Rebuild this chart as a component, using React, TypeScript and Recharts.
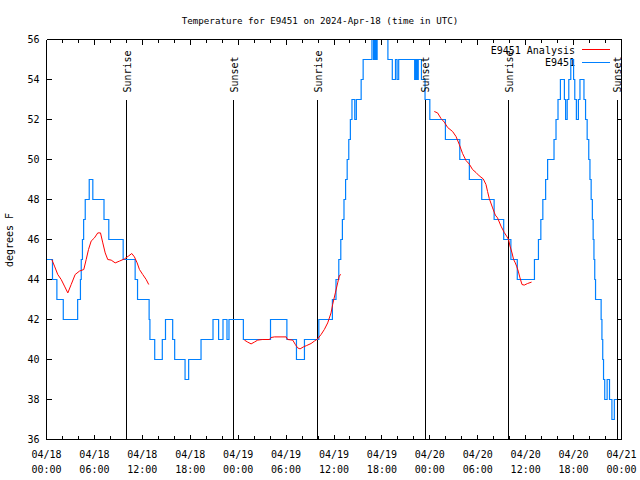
import { Line, LineChart, ReferenceDot, ReferenceLine, XAxis, YAxis } from 'recharts';

const FONT = '"DejaVu Sans Mono", "Liberation Mono", monospace';
const BLUE = '#0080ff';
const RED = '#ff0000';

// hours since 04/18 00:00 UTC
const HOUR_TICKS = [0, 2, 4, 6, 8, 10, 12, 14, 16, 18, 20, 22, 24, 26, 28, 30, 32, 34, 36, 38, 40, 42, 44, 46, 48, 50, 52, 54, 56, 58, 60, 62, 64, 66, 68, 70, 72];
const DATE_LABELS = ['04/18', '04/18', '04/18', '04/18', '04/19', '04/19', '04/19', '04/19', '04/20', '04/20', '04/20', '04/20', '04/21'];
const TIME_LABELS = ['00:00', '06:00', '12:00', '18:00', '00:00', '06:00', '12:00', '18:00', '00:00', '06:00', '12:00', '18:00', '00:00'];
const TEMP_TICKS = [36, 38, 40, 42, 44, 46, 48, 50, 52, 54, 56];

const SUN_EVENTS = [
  { t: 10.05, label: 'Sunrise' },
  { t: 23.45, label: 'Sunset' },
  { t: 33.96, label: 'Sunrise' },
  { t: 47.45, label: 'Sunset' },
  { t: 57.9, label: 'Sunrise' },
  { t: 71.45, label: 'Sunset' },
];

// E9451 observations: [hour, degF], each value held until the next change
const OBS: [number, number][] = [
  [0.05, 45], [0.75, 44], [1.3, 43], [2.1, 42], [3.9, 43], [4.25, 44], [4.35, 45], [4.5, 46],
  [4.65, 47], [4.85, 48], [5.35, 49], [5.8, 48], [7.2, 47], [7.8, 46], [9.6, 45], [11.1, 44],
  [11.4, 43], [12.85, 42], [12.95, 41], [13.55, 40], [14.5, 41], [14.9, 42], [15.8, 41], [16.05, 40],
  [17.35, 39], [17.8, 40], [19.35, 41], [20.85, 42], [21.55, 41], [22.1, 42], [22.6, 41], [22.85, 42],
  [24.65, 41], [28.05, 42], [30.1, 41], [31.3, 40], [32.3, 41], [34.1, 42], [35.8, 43], [36.25, 44],
  [36.6, 45], [36.85, 46], [37.05, 47], [37.25, 48], [37.45, 49], [37.65, 50], [37.85, 51], [38.05, 52],
  [38.25, 53], [38.6, 52], [38.8, 53], [39.4, 54], [39.65, 55], [40.75, 56], [40.95, 55], [41.1, 56],
  [41.25, 55], [41.4, 56], [42.75, 55], [43.3, 54], [43.7, 55], [43.9, 54], [44.1, 55], [46.1, 54],
  [46.25, 55], [46.4, 54], [46.55, 55], [46.95, 54], [47.4, 53], [48.0, 52], [49.95, 51], [51.75, 50],
  [52.95, 49], [54.5, 48], [56.05, 47], [57.25, 46], [58.15, 45], [58.95, 44], [61.1, 45], [61.6, 46],
  [61.9, 47], [62.15, 48], [62.5, 49], [62.75, 50], [63.55, 51], [63.8, 52], [64.05, 53], [64.35, 54],
  [64.85, 53], [65.0, 52], [65.2, 53], [65.4, 54], [65.65, 55], [66.0, 54], [66.15, 53], [66.35, 52],
  [66.6, 53], [66.8, 54], [67.3, 53], [67.5, 52], [67.7, 51], [67.9, 50], [68.05, 49], [68.2, 48],
  [68.35, 47], [68.45, 46], [68.55, 45], [68.65, 44], [68.75, 43], [69.45, 42], [69.55, 41], [69.65, 40],
  [69.75, 39], [69.9, 38], [70.2, 39], [70.5, 38], [70.8, 37], [71.1, 38], [71.5, 38],
];

// E9451 Analysis, three separate runs
const ANALYSIS_1: [number, number][] = [
  [0.66, 45.0], [1.0, 44.67], [1.41, 44.25], [1.84, 44.0], [2.25, 43.67], [2.67, 43.33], [3.09, 43.75],
  [3.59, 44.25], [4.13, 44.42], [4.67, 44.5], [4.97, 45.0], [5.26, 45.5], [5.59, 45.92], [6.0, 46.08],
  [6.42, 46.33], [6.76, 46.33], [7.05, 45.83], [7.35, 45.33], [7.67, 45.0], [8.1, 44.97], [8.6, 44.83],
  [9.14, 44.92], [9.76, 45.03], [10.26, 45.17], [10.68, 45.3], [11.01, 45.13], [11.35, 44.83],
  [11.64, 44.5], [12.05, 44.25], [12.48, 44.0], [12.8, 43.75],
];
const ANALYSIS_2: [number, number][] = [
  [24.78, 40.97], [25.19, 40.87], [25.62, 40.78], [26.03, 40.87], [26.45, 40.97], [27.03, 41.0],
  [27.91, 41.0], [28.12, 41.1], [28.54, 41.13], [30.0, 41.13], [30.2, 41.0], [30.83, 40.97],
  [31.16, 40.75], [31.45, 40.58], [31.75, 40.53], [32.17, 40.63], [32.58, 40.7], [33.13, 40.8],
  [33.54, 40.92], [33.95, 41.03], [34.38, 41.25], [34.79, 41.5], [35.21, 41.83], [35.63, 42.33],
  [35.83, 42.75], [36.17, 43.33], [36.46, 43.83], [36.67, 44.2], [36.88, 44.25],
];
const ANALYSIS_3: [number, number][] = [
  [48.56, 52.4], [48.97, 52.33], [49.4, 52.05], [49.81, 51.87], [50.23, 51.6], [50.85, 51.4],
  [51.28, 51.15], [51.69, 50.75], [52.1, 50.3], [52.53, 49.95], [52.94, 49.77], [53.35, 49.5],
  [53.78, 49.35], [54.19, 49.18], [54.69, 49.03], [55.03, 48.75], [55.23, 48.4], [55.44, 48.05],
  [55.86, 47.58], [56.2, 47.22], [56.48, 47.08], [56.91, 46.67], [57.32, 46.35], [57.61, 46.17],
  [57.86, 46.0], [58.04, 45.67], [58.29, 45.33], [58.49, 45.0], [58.7, 44.83], [58.86, 44.67],
  [59.07, 44.42], [59.29, 44.08], [59.54, 43.75], [59.82, 43.72], [60.24, 43.8], [60.74, 43.87],
];

const obsData = OBS.map(([t, v]) => ({ t, v }));
const analysisData = [ANALYSIS_1, ANALYSIS_2, ANALYSIS_3].flatMap((run, i) => {
  const pts: { t: number; v: number | null }[] = run.map(([t, v]) => ({ t, v }));
  if (i > 0) pts.unshift({ t: run[0][0] - 0.01, v: null });
  return pts;
});

const textProps = { fontFamily: FONT, fontSize: 10, fill: '#000' };

function BottomTick({ x, y, payload }: any) {
  const t = payload.value as number;
  const major = t % 6 === 0;
  return (
    <g>
      <line x1={x} x2={x} y1={y} y2={y - (major ? 5 : 3.5)} stroke="#000" shapeRendering="crispEdges" />
      {major && (
        <>
          <text {...textProps} x={x} y={y + 18} textAnchor="middle">{DATE_LABELS[t / 6]}</text>
          <text {...textProps} x={x} y={y + 33} textAnchor="middle">{TIME_LABELS[t / 6]}</text>
        </>
      )}
    </g>
  );
}

function TopTick({ x, y, payload }: any) {
  const major = (payload.value as number) % 6 === 0;
  return <line x1={x} x2={x} y1={y} y2={y + (major ? 5 : 3.5)} stroke="#000" shapeRendering="crispEdges" />;
}

function LeftTick({ x, y, payload }: any) {
  return (
    <g>
      <line x1={x} x2={x + 5} y1={y} y2={y} stroke="#000" shapeRendering="crispEdges" />
      <text {...textProps} x={x - 7} y={y + 3.5} textAnchor="end">{payload.value}</text>
    </g>
  );
}

function RightTick({ x, y }: any) {
  return <line x1={x} x2={x - 5} y1={y} y2={y} stroke="#000" shapeRendering="crispEdges" />;
}

function SunLabel(text: string) {
  return ({ cx, cy }: any) => {
    const bx = cx + 4;
    const by = cy - 7;
    return (
      <text {...textProps} x={bx} y={by} transform={`rotate(-90 ${bx} ${by})`} textAnchor="start">
        {text}
      </text>
    );
  };
}

const frameLine = { stroke: '#000', shapeRendering: 'crispEdges' };

export default function App() {
  return (
    <div style={{ width: 640, height: 480, background: '#fff' }}>
      <style>{'body{margin:0}'}</style>
      <LineChart width={640} height={480} margin={{ top: 0, right: 0, bottom: 0, left: 0 }}>
        <XAxis
          xAxisId="b"
          dataKey="t"
          type="number"
          domain={[0, 72]}
          ticks={HOUR_TICKS}
          interval={0}
          height={40.5}
          tickSize={0}
          tickMargin={0}
          tickLine={false}
          axisLine={frameLine}
          tick={(p: any) => <BottomTick {...p} />}
          allowDataOverflow
        />
        <XAxis
          xAxisId="t"
          dataKey="t"
          type="number"
          orientation="top"
          domain={[0, 72]}
          ticks={HOUR_TICKS}
          interval={0}
          height={39.5}
          tickSize={0}
          tickMargin={0}
          tickLine={false}
          axisLine={frameLine}
          tick={(p: any) => <TopTick {...p} />}
          allowDataOverflow
        />
        <YAxis
          yAxisId="l"
          type="number"
          domain={[36, 56]}
          ticks={TEMP_TICKS}
          interval={0}
          width={46.5}
          tickSize={0}
          tickMargin={0}
          tickLine={false}
          axisLine={frameLine}
          tick={(p: any) => <LeftTick {...p} />}
          allowDataOverflow
        />
        <YAxis
          yAxisId="r"
          orientation="right"
          type="number"
          domain={[36, 56]}
          ticks={TEMP_TICKS}
          interval={0}
          width={18.5}
          tickSize={0}
          tickMargin={0}
          tickLine={false}
          axisLine={frameLine}
          tick={(p: any) => <RightTick {...p} />}
          allowDataOverflow
        />

        {SUN_EVENTS.map((e, i) => (
          <ReferenceLine
            key={`sl${i}`}
            xAxisId="b"
            yAxisId="l"
            segment={[{ x: e.t, y: 53 }, { x: e.t, y: 36 }]}
            stroke="#000"
            strokeWidth={1}
            shapeRendering="crispEdges"
          />
        ))}
        {SUN_EVENTS.map((e, i) => (
          <ReferenceDot
            key={`sd${i}`}
            xAxisId="b"
            yAxisId="l"
            x={e.t}
            y={53}
            r={0}
            shape={SunLabel(e.label)}
          />
        ))}

        <Line
          xAxisId="b"
          yAxisId="l"
          data={obsData}
          dataKey="v"
          type="stepAfter"
          stroke={BLUE}
          strokeWidth={1.2}
          dot={false}
          isAnimationActive={false}
        />
        <Line
          xAxisId="b"
          yAxisId="l"
          data={analysisData}
          dataKey="v"
          type="linear"
          stroke={RED}
          strokeWidth={1}
          dot={false}
          connectNulls={false}
          isAnimationActive={false}
        />

        <text {...textProps} fontSize={9.2} x={320} y={24} textAnchor="middle">
          Temperature for E9451 on 2024-Apr-18 (time in UTC)
        </text>
        <text {...textProps} x={13} y={240} textAnchor="middle" transform="rotate(-90 13 240)">
          degrees F
        </text>
        <text {...textProps} x={575} y={53.5} textAnchor="end">E9451 Analysis</text>
        <line x1={582} x2={610} y1={49.5} y2={49.5} stroke={RED} />
        <text {...textProps} x={575} y={66} textAnchor="end">E9451</text>
        <line x1={582} x2={610} y1={62.5} y2={62.5} stroke={BLUE} />
      </LineChart>
    </div>
  );
}
